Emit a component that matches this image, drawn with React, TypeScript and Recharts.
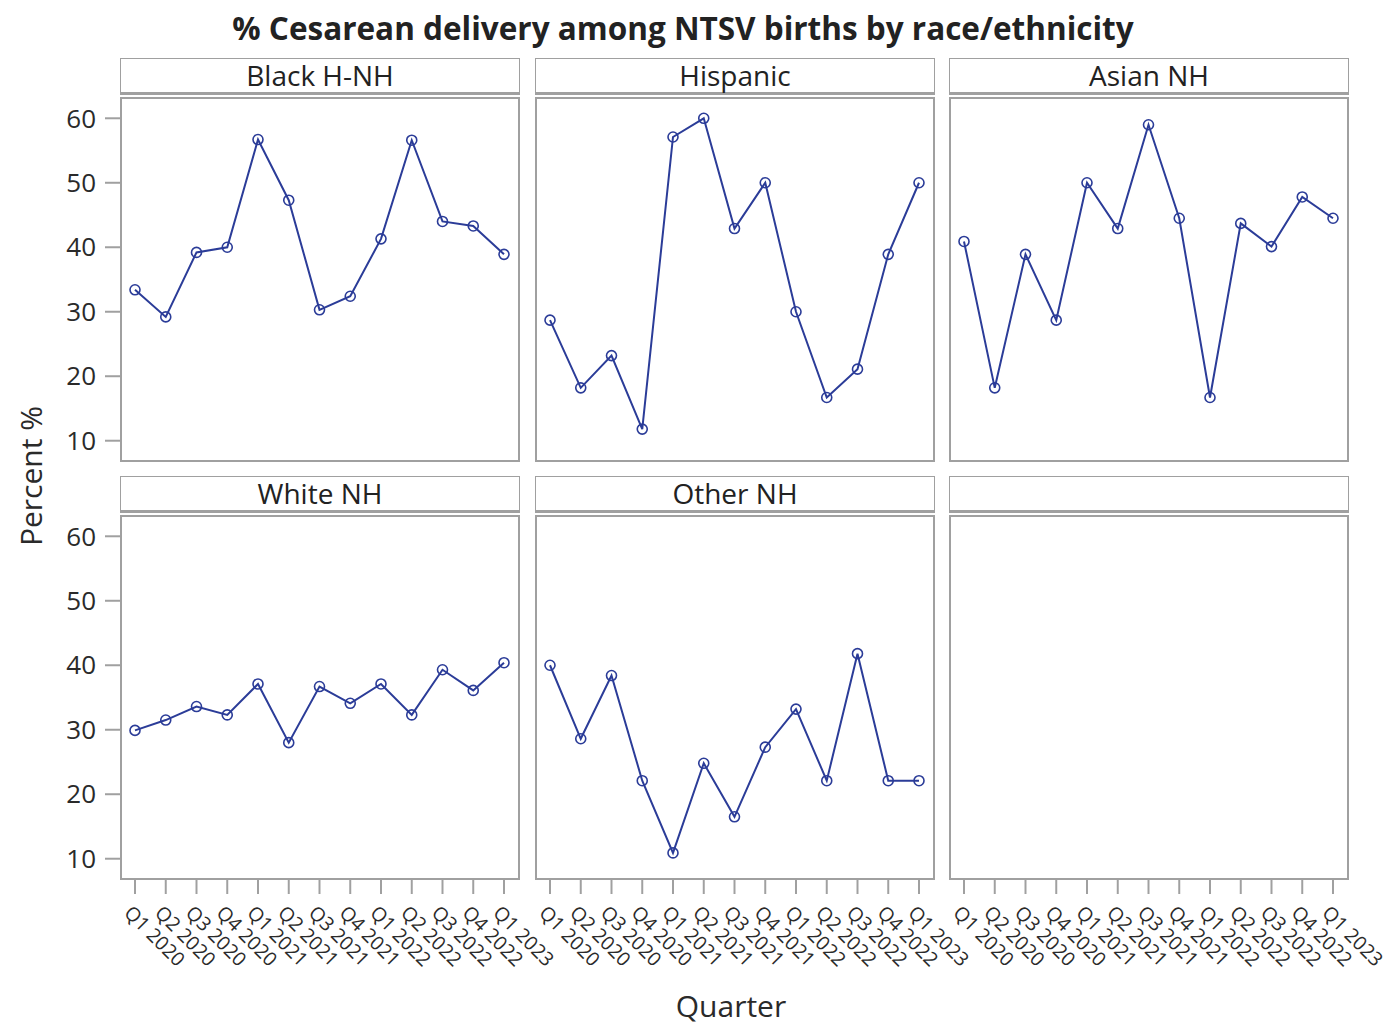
import React from 'react';
import { LineChart, Line, XAxis, YAxis } from 'recharts';

const quarters = [
  'Q1 2020', 'Q2 2020', 'Q3 2020', 'Q4 2020',
  'Q1 2021', 'Q2 2021', 'Q3 2021', 'Q4 2021',
  'Q1 2022', 'Q2 2022', 'Q3 2022', 'Q4 2022',
  'Q1 2023',
];

const blackHNH = [33.4, 29.2, 39.2, 40.0, 56.7, 47.3, 30.3, 32.4, 41.3, 56.6, 44.0, 43.3, 38.9];
const hispanic = [28.7, 18.2, 23.2, 11.8, 57.1, 60.0, 42.9, 50.0, 30.0, 16.7, 21.1, 38.9, 50.0];
const asianNH = [40.9, 18.2, 38.9, 28.7, 50.0, 42.9, 59.0, 44.5, 16.7, 43.7, 40.1, 47.8, 44.5];
const whiteNH = [29.9, 31.5, 33.6, 32.3, 37.1, 28.0, 36.7, 34.1, 37.1, 32.3, 39.3, 36.1, 40.4];
const otherNH = [40.0, 28.6, 38.4, 22.1, 10.9, 24.8, 16.5, 27.3, 33.2, 22.1, 41.8, 22.1, 22.1];

const yTicks = [10, 20, 30, 40, 50, 60];

const panels = [
  { name: 'Black H-NH', values: blackHNH },
  { name: 'Hispanic', values: hispanic },
  { name: 'Asian NH', values: asianNH },
  { name: 'White NH', values: whiteNH },
  { name: 'Other NH', values: otherNH },
  { name: '', values: null as number[] | null },
];

const LINE = '#2B3C98';
const FRAME = '#a0a0a0';
const TEXT = '#2a2a2a';
const FONT = '"Open Sans", sans-serif';

const COL_LEFT = [120, 535, 949];
const ROW_TOP = [97, 515];
const PW = 400;
const PH = 365;
const YAXIS_W = 120;
const XAXIS_H = 110;

function QuarterTick(props: any) {
  const { x, y, payload } = props;
  const ax = x - 12;
  const ay = y + 20;
  return (
    <text
      x={ax}
      y={ay}
      transform={`rotate(45, ${ax}, ${ay})`}
      textAnchor="start"
      fontSize={19.5}
      fontFamily={FONT}
      fill={TEXT}
    >
      {payload.value}
    </text>
  );
}

function Panel({ idx }: { idx: number }) {
  const col = idx % 3;
  const row = Math.floor(idx / 3);
  const p = panels[idx];
  const left = COL_LEFT[col];
  const top = ROW_TOP[row];
  const hasY = col === 0;
  const hasX = row === 1;
  const rightRoom = col === 2 ? 35 : 60;
  const data = quarters.map((q, i) => ({ quarter: q, value: p.values ? p.values[i] : null }));

  return (
    <>
      {/* strip header */}
      <div
        style={{
          position: 'absolute',
          left,
          top: top - 39,
          width: PW,
          height: 37,
          boxSizing: 'border-box',
          border: `1.5px solid ${FRAME}`,
          borderBottomWidth: 3,
          textAlign: 'center',
          fontFamily: FONT,
          fontSize: 28,
          lineHeight: '33px',
          color: '#222',
        }}
      >
        {p.name}
      </div>
      {/* plot frame */}
      <div
        style={{
          position: 'absolute',
          left,
          top,
          width: PW,
          height: PH,
          boxSizing: 'border-box',
          border: `2px solid ${FRAME}`,
        }}
      />
      <div style={{ position: 'absolute', left: left - (hasY ? YAXIS_W : 0), top }}>
        <LineChart
          width={PW + (hasY ? YAXIS_W : 0) + rightRoom}
          height={PH + (hasX ? XAXIS_H : 0)}
          data={data}
          margin={{ top: 0, right: rightRoom, left: 0, bottom: 0 }}
        >
          <XAxis
            dataKey="quarter"
            hide={!hasX}
            height={XAXIS_H}
            padding={{ left: 15, right: 16 }}
            axisLine={false}
            tickLine={{ stroke: FRAME, strokeWidth: 2 }}
            tickSize={14}
            tickMargin={0}
            interval={0}
            tick={<QuarterTick />}
          />
          <YAxis
            hide={!hasY}
            width={YAXIS_W}
            type="number"
            domain={[6.7, 63.3]}
            ticks={yTicks}
            allowDataOverflow
            axisLine={false}
            tickLine={{ stroke: FRAME, strokeWidth: 2 }}
            tickSize={15}
            tickMargin={9}
            tick={{ fontSize: 26, fontFamily: FONT, fill: TEXT }}
          />
          {p.values && (
            <Line
              type="linear"
              dataKey="value"
              stroke={LINE}
              strokeWidth={2}
              dot={{ r: 5, stroke: LINE, strokeWidth: 1.6, fill: 'none' }}
              isAnimationActive={false}
            />
          )}
        </LineChart>
      </div>
    </>
  );
}

export default function App() {
  return (
    <div
      style={{
        position: 'absolute',
        left: 0,
        top: 0,
        width: 1384,
        height: 1024,
        background: '#fff',
        fontFamily: FONT,
        overflow: 'hidden',
      }}
    >
      <svg width={1384} height={1024} style={{ position: 'absolute', left: 0, top: 0 }}>
        <text
          x={683}
          y={27}
          textAnchor="middle"
          dominantBaseline="central"
          fontFamily={FONT}
          fontWeight={700}
          fontSize={31.5}
          fill="#222"
        >
          % Cesarean delivery among NTSV births by race/ethnicity
        </text>
        <text
          x={30}
          y={476}
          transform="rotate(-90, 30, 476)"
          textAnchor="middle"
          dominantBaseline="central"
          fontFamily={FONT}
          fontSize={30}
          fill={TEXT}
        >
          Percent %
        </text>
        <text
          x={731}
          y={1005}
          textAnchor="middle"
          dominantBaseline="central"
          fontFamily={FONT}
          fontSize={30}
          fill={TEXT}
        >
          Quarter
        </text>
      </svg>
      {panels.map((_, i) => (
        <Panel key={i} idx={i} />
      ))}
    </div>
  );
}
